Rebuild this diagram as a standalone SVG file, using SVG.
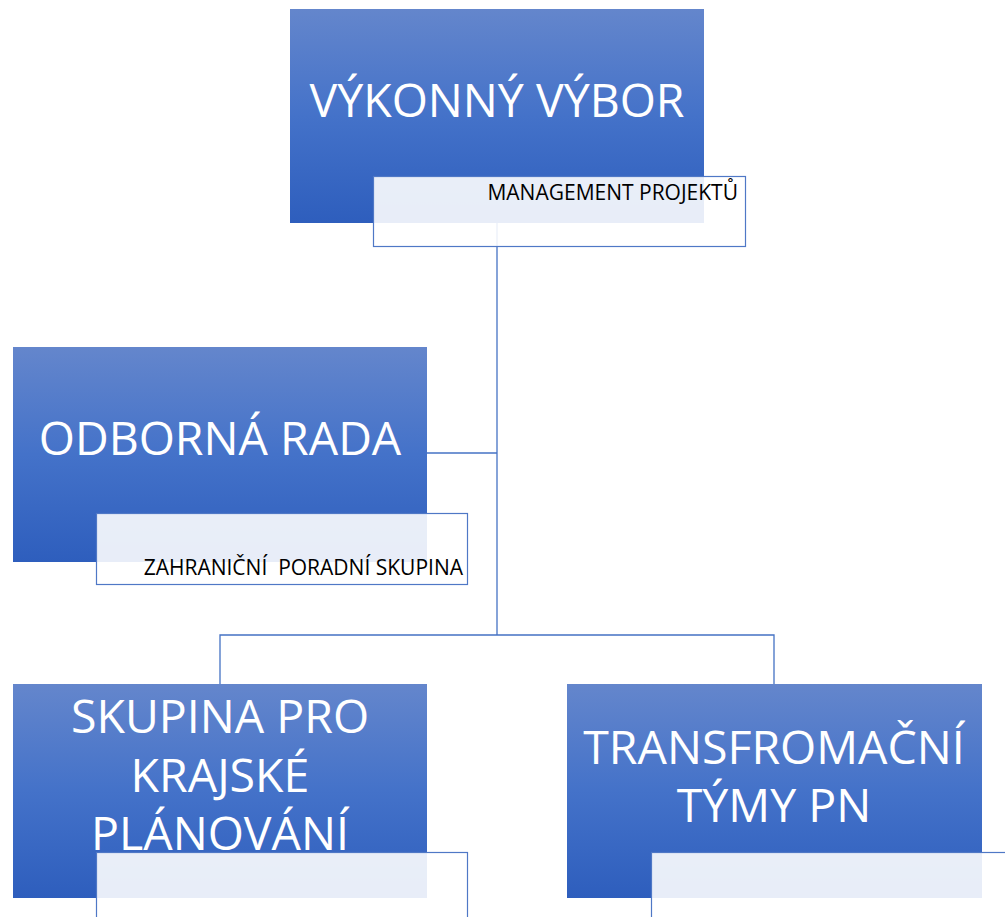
<svg xmlns="http://www.w3.org/2000/svg" width="1005" height="917" viewBox="0 0 1005 917">
  <defs>
    <linearGradient id="boxFill" x1="0" y1="0" x2="0" y2="1">
      <stop offset="0" stop-color="#6486CC"/>
      <stop offset="0.5" stop-color="#4472C9"/>
      <stop offset="1" stop-color="#2E5EBD"/>
    </linearGradient>
    <style>
      .box { fill: url(#boxFill); }
      .sub { fill: #ffffff; fill-opacity: 0.89; stroke: #4f78c6; stroke-width: 1.2; }
      .main { font-family: "Open Sans", "DejaVu Sans", sans-serif; font-size: 46.5px; fill: #ffffff; text-anchor: middle; }
      .small { font-family: "Open Sans", "DejaVu Sans", sans-serif; font-size: 21px; fill: #000000; }
      .link { fill: none; stroke: #4472c4; stroke-width: 1.3; }
    </style>
  </defs>
  <rect width="1005" height="917" fill="#ffffff"/>

  <!-- connectors -->
  <g id="connectors">
    <path class="link" d="M497 223 V635"/>
    <path class="link" d="M427 453 H497"/>
    <path class="link" d="M220 684 V635 H774 V684"/>
  </g>

  <g id="vykonny-vybor">
    <rect class="box" x="290" y="9" width="414" height="214"/>
    <text class="main" x="497" y="117">VÝKONNÝ VÝBOR</text>
    <rect class="sub" x="373.5" y="176.5" width="372" height="70"/>
    <text class="small" x="738" y="200" text-anchor="end">MANAGEMENT PROJEKTŮ</text>
  </g>

  <g id="odborna-rada">
    <rect class="box" x="13" y="347" width="414" height="215"/>
    <text class="main" x="220" y="455">ODBORNÁ RADA</text>
    <rect class="sub" x="96.5" y="513.5" width="371" height="71"/>
    <text class="small" x="463" y="575" text-anchor="end" xml:space="preserve">ZAHRANIČNÍ  PORADNÍ SKUPINA</text>
  </g>

  <g id="skupina-krajske-planovani">
    <rect class="box" x="13" y="684" width="414" height="214"/>
    <text class="main" x="220" y="733">SKUPINA PRO</text>
    <text class="main" x="220" y="792">KRAJSKÉ</text>
    <text class="main" x="220" y="850">PLÁNOVÁNÍ</text>
    <rect class="sub" x="96.5" y="852.5" width="371" height="80"/>
  </g>

  <g id="transformacni-tymy">
    <rect class="box" x="567" y="684" width="415" height="214"/>
    <text class="main" x="774" y="764">TRANSFROMAČNÍ</text>
    <text class="main" x="774" y="822">TÝMY PN</text>
    <rect class="sub" x="651.5" y="852.5" width="380" height="80"/>
  </g>
</svg>
